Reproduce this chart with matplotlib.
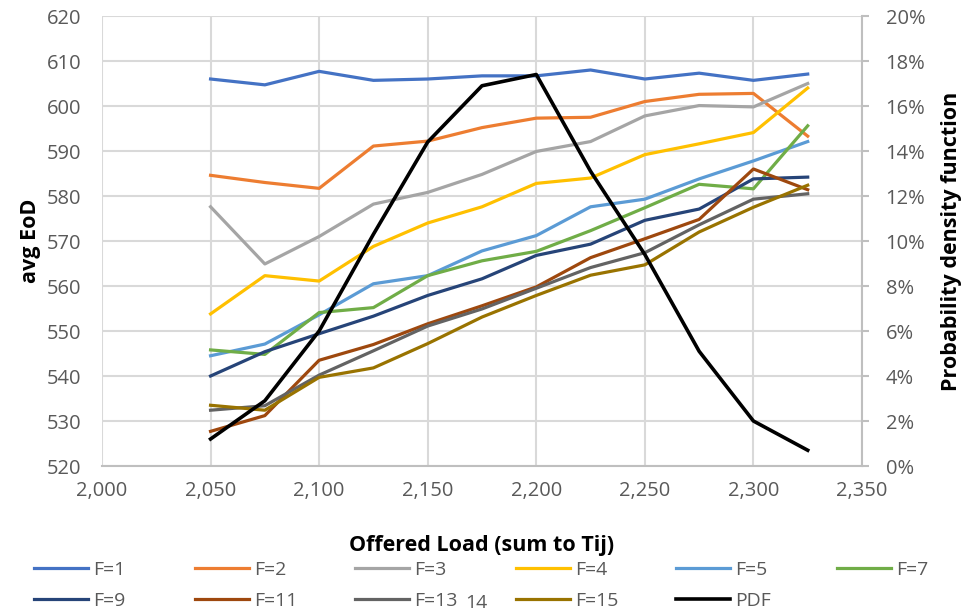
import matplotlib
matplotlib.use("Agg")
import matplotlib.pyplot as plt
from matplotlib.ticker import FuncFormatter

plt.rcParams['font.family'] = ['Open Sans', 'DejaVu Sans']

load = [2050, 2075, 2100, 2125, 2150, 2175, 2200, 2225, 2250, 2275, 2300, 2325]

f1 = [606.0, 604.7, 607.7, 605.7, 606.0, 606.7, 606.7, 608.0, 606.0, 607.3, 605.7, 607.1]
f2 = [584.6, 583.0, 581.7, 591.1, 592.2, 595.2, 597.3, 597.5, 601.0, 602.6, 602.8, 593.3]
f3 = [577.6, 564.9, 571.0, 578.2, 580.8, 584.8, 589.9, 592.1, 597.8, 600.1, 599.8, 605.0]
f4 = [553.8, 562.3, 561.1, 568.8, 574.0, 577.6, 582.8, 584.0, 589.2, 591.6, 594.1, 604.0]
f5 = [544.5, 547.1, 553.6, 560.5, 562.3, 567.8, 571.2, 577.6, 579.3, 583.8, 587.8, 592.1]
f7 = [545.8, 544.8, 554.1, 555.2, 562.3, 565.6, 567.7, 572.3, 577.4, 582.6, 581.6, 595.6]
f9 = [540.0, 545.4, 549.4, 553.3, 557.9, 561.6, 566.8, 569.3, 574.6, 577.1, 583.8, 584.2]
f11 = [527.7, 531.2, 543.5, 547.0, 551.6, 555.6, 559.8, 566.3, 570.5, 574.8, 586.0, 581.4]
f13 = [532.4, 533.4, 540.2, 545.6, 551.1, 554.9, 559.5, 564.1, 567.4, 573.6, 579.3, 580.5]
f15 = [533.5, 532.4, 539.7, 541.8, 547.2, 553.1, 557.9, 562.4, 564.7, 572.0, 577.5, 582.4]
pdf = [0.012, 0.029, 0.060, 0.103, 0.144, 0.169, 0.174, 0.131, 0.094, 0.051, 0.020, 0.007]

names = ['F=1', 'F=2', 'F=3', 'F=4', 'F=5', 'F=7', 'F=9', 'F=11', 'F=13', 'F=15']
series = [f1, f2, f3, f4, f5, f7, f9, f11, f13, f15]
colors = ['#4472C4', '#ED7D31', '#A5A5A5', '#FFC000', '#5B9BD5', '#70AD47',
          '#264478', '#9E480E', '#636363', '#997300']

fig = plt.figure(figsize=(9.75, 6.11), dpi=100)
ax = fig.add_axes([0.1046, 0.2373, 0.7795, 0.7365])
ax2 = ax.twinx()

lines = {}
for vals, name, c in zip(series, names, colors):
    l, = ax.plot(load, vals, color=c, lw=2.3, label=name)
    lines[name] = l
lp, = ax2.plot(load, pdf, color='black', lw=2.6, label='PDF')
lines['PDF'] = lp

ax.set_xlim(2000, 2350)
ax.set_ylim(520, 620)
ax.set_xticks(range(2000, 2351, 50))
ax.set_yticks(range(520, 621, 10))
ax.xaxis.set_major_formatter(FuncFormatter(lambda v, p: f"{int(v):,}"))
ax2.set_ylim(0, 0.20)
ax2.set_yticks([i / 100 for i in range(0, 21, 2)])
ax2.yaxis.set_major_formatter(FuncFormatter(lambda v, p: f"{v*100:.0f}%"))

ax.grid(True, color='#D9D9D9', lw=1.5)
ax.set_axisbelow(True)
for a in (ax, ax2):
    for s in a.spines.values():
        s.set_visible(False)
ax2.spines['right'].set_visible(True)
ax2.spines['right'].set_color('#BFBFBF')
ax2.spines['right'].set_linewidth(1.5)
ax.spines['bottom'].set_visible(True)
ax.spines['bottom'].set_color('#BFBFBF')
ax.spines['bottom'].set_linewidth(1.5)

ax.tick_params(axis='y', length=0, labelsize=14.5, labelcolor='#595959', pad=15)
ax.tick_params(axis='x', length=0, labelsize=14.5, labelcolor='#595959', pad=11)
ax2.tick_params(axis='y', length=5, color='#BFBFBF', width=1.5, labelsize=14.5,
                labelcolor='#595959', pad=12)

ax.set_ylabel('avg EoD', fontsize=15.5, fontweight='bold', labelpad=4)
ax2.set_ylabel('Probability density function', fontsize=15.5, fontweight='bold', labelpad=11)
ax.set_xlabel('Offered Load (sum to Tij)', fontsize=15.5, fontweight='bold', labelpad=24)

# legend: six evenly spaced columns, like the Excel legend
cols = [['F=1', 'F=9'], ['F=2', 'F=11'], ['F=3', 'F=13'],
        ['F=4', 'F=15'], ['F=5', 'PDF'], ['F=7']]
for i, col in enumerate(cols):
    fig.legend(handles=[lines[k] for k in col], labels=col,
               loc='upper left', bbox_to_anchor=((34 + 160.5 * i) / 975, 0.082),
               frameon=False, fontsize=14, handlelength=2.8, handletextpad=0.25,
               labelcolor='#595959', borderaxespad=0, borderpad=0, labelspacing=0.66)

fig.text(465 / 975, 8 / 611, '14', fontsize=14, color='#595959', va='center')

fig.savefig('out.png', dpi=100)
